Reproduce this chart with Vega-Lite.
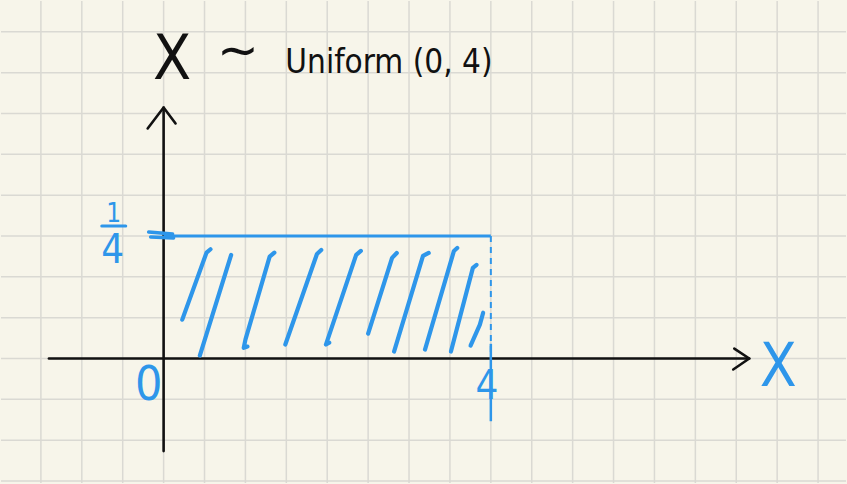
{
  "$schema": "https://vega.github.io/schema/vega-lite/v6.json",
  "width": 847,
  "height": 484,
  "autosize": {"type": "fit", "contains": "padding"},
  "padding": 0,
  "background": "#f7f5ea",
  "config": {"view": {"stroke": null}},
  "datasets": {
    "gridx": [
      {"x": -1.5}, {"x": -1.0}, {"x": -0.5}, {"x": 0.0}, {"x": 0.5}, {"x": 1.0}, {"x": 1.5},
      {"x": 2.0}, {"x": 2.5}, {"x": 3.0}, {"x": 3.5}, {"x": 4.0}, {"x": 4.5}, {"x": 5.0},
      {"x": 5.5}, {"x": 6.0}, {"x": 6.5}, {"x": 7.0}, {"x": 7.5}, {"x": 8.0}
    ],
    "gridy": [
      {"y": -0.25}, {"y": -0.1667}, {"y": -0.0833}, {"y": 0.0}, {"y": 0.0833}, {"y": 0.1667},
      {"y": 0.25}, {"y": 0.3333}, {"y": 0.4167}, {"y": 0.5}, {"y": 0.5833}, {"y": 0.6667}
    ],
    "axes": [
      {"path": "xaxis", "i": 0, "x": -1.402, "y": 0},
      {"path": "xaxis", "i": 1, "x": 7.159, "y": 0},
      {"path": "xarrow", "i": 0, "x": 6.976, "y": 0.0203},
      {"path": "xarrow", "i": 1, "x": 7.159, "y": 0},
      {"path": "xarrow", "i": 2, "x": 6.963, "y": -0.0224},
      {"path": "yaxis", "i": 0, "x": 0, "y": -0.189},
      {"path": "yaxis", "i": 1, "x": 0, "y": 0.512},
      {"path": "yarrow", "i": 0, "x": -0.195, "y": 0.4695},
      {"path": "yarrow", "i": 1, "x": 0, "y": 0.5122},
      {"path": "yarrow", "i": 2, "x": 0.146, "y": 0.4797}
    ],
    "hatch": [
      {"stroke": 1, "i": 0, "x": 0.5732, "y": 0.2230},
      {"stroke": 1, "i": 1, "x": 0.5244, "y": 0.2161},
      {"stroke": 1, "i": 2, "x": 0.2280, "y": 0.0793},
      {"stroke": 2, "i": 0, "x": 0.8256, "y": 0.2114},
      {"stroke": 2, "i": 1, "x": 0.4427, "y": 0.0061},
      {"stroke": 3, "i": 0, "x": 1.3537, "y": 0.2161},
      {"stroke": 3, "i": 1, "x": 1.2963, "y": 0.2079},
      {"stroke": 3, "i": 2, "x": 1.0000, "y": 0.0386},
      {"stroke": 3, "i": 3, "x": 0.9793, "y": 0.0217},
      {"stroke": 3, "i": 4, "x": 1.0244, "y": 0.0244},
      {"stroke": 4, "i": 0, "x": 1.9268, "y": 0.2215},
      {"stroke": 4, "i": 1, "x": 1.8744, "y": 0.2134},
      {"stroke": 4, "i": 2, "x": 1.4878, "y": 0.0285},
      {"stroke": 5, "i": 0, "x": 2.4110, "y": 0.2195},
      {"stroke": 5, "i": 1, "x": 2.3537, "y": 0.2114},
      {"stroke": 5, "i": 2, "x": 1.9841, "y": 0.0285},
      {"stroke": 5, "i": 3, "x": 2.0244, "y": 0.0325},
      {"stroke": 6, "i": 0, "x": 2.8500, "y": 0.2154},
      {"stroke": 6, "i": 1, "x": 2.7927, "y": 0.2053},
      {"stroke": 6, "i": 2, "x": 2.5000, "y": 0.0508},
      {"stroke": 7, "i": 0, "x": 3.2402, "y": 0.2154},
      {"stroke": 7, "i": 1, "x": 3.1707, "y": 0.2093},
      {"stroke": 7, "i": 2, "x": 2.8171, "y": 0.0142},
      {"stroke": 8, "i": 0, "x": 3.5890, "y": 0.2256},
      {"stroke": 8, "i": 1, "x": 3.5488, "y": 0.2195},
      {"stroke": 8, "i": 2, "x": 3.1951, "y": 0.0183},
      {"stroke": 9, "i": 0, "x": 3.8256, "y": 0.1911},
      {"stroke": 9, "i": 1, "x": 3.7805, "y": 0.1850},
      {"stroke": 9, "i": 2, "x": 3.5122, "y": 0.0142},
      {"stroke": 10, "i": 0, "x": 3.9061, "y": 0.0935},
      {"stroke": 10, "i": 1, "x": 3.8659, "y": 0.0691},
      {"stroke": 10, "i": 2, "x": 3.7524, "y": 0.0264}
    ],
    "ticks": [
      {"path": "t1", "i": 0, "x": -0.183, "y": 0.2581},
      {"path": "t1", "i": 1, "x": 0.1098, "y": 0.2541},
      {"path": "t2", "i": 0, "x": -0.1585, "y": 0.2480},
      {"path": "t2", "i": 1, "x": 0.122, "y": 0.2459}
    ],
    "labels": [
      {"name": "titleX", "text": "X", "x": 0.1037, "y": 0.5711},
      {"name": "tilde", "text": "∼", "x": 0.9085, "y": 0.6260},
      {"name": "dist", "text": "Uniform (0, 4)", "x": 1.4878, "y": 0.5833},
      {"name": "num", "text": "1", "x": -0.6098, "y": 0.2785},
      {"name": "den", "text": "4", "x": -0.622, "y": 0.1951},
      {"name": "zero", "text": "0", "x": -0.183, "y": -0.0854},
      {"name": "four", "text": "4", "x": 3.951, "y": -0.0833},
      {"name": "xlab", "text": "X", "x": 7.512, "y": -0.0569}
    ]
  },
  "encoding": {
    "x": {"field": "x", "type": "quantitative", "axis": null,
          "scale": {"domain": [-1.9878, 8.3415], "nice": false, "zero": false}},
    "y": {"field": "y", "type": "quantitative", "axis": null,
          "scale": {"domain": [-0.25407, 0.72967], "nice": false, "zero": false}}
  },
  "layer": [
    {
      "data": {"name": "gridx"},
      "mark": {"type": "rule", "stroke": "#dad9d3", "strokeWidth": 1.5},
      "encoding": {"y": null}
    },
    {
      "data": {"name": "gridy"},
      "mark": {"type": "rule", "stroke": "#dad9d3", "strokeWidth": 1.5},
      "encoding": {"x": null}
    },
    {
      "data": {"name": "axes"},
      "mark": {"type": "line", "color": "#111111", "strokeWidth": 2.6, "strokeCap": "round", "strokeJoin": "round"},
      "encoding": {
        "detail": {"field": "path"},
        "order": {"field": "i", "type": "quantitative"}
      }
    },
    {
      "data": {"name": "hatch"},
      "mark": {"type": "line", "color": "#2e96ea", "strokeWidth": 4.2, "strokeCap": "round", "strokeJoin": "round"},
      "encoding": {
        "detail": {"field": "stroke"},
        "order": {"field": "i", "type": "quantitative"}
      }
    },
    {
      "data": {"name": "ticks"},
      "mark": {"type": "line", "color": "#2e96ea", "strokeWidth": 3.5, "strokeCap": "round"},
      "encoding": {
        "detail": {"field": "path"},
        "order": {"field": "i", "type": "quantitative"}
      }
    },
    {
      "data": {"values": [{"x": 0, "x2": 4, "y": 0.25}]},
      "mark": {"type": "rule", "color": "#2e96ea", "strokeWidth": 3.2},
      "encoding": {"x2": {"field": "x2"}}
    },
    {
      "data": {"values": [{"x": 4, "y": 0.25, "y2": 0}]},
      "mark": {"type": "rule", "color": "#2e96ea", "strokeWidth": 2, "strokeDash": [6, 5]},
      "encoding": {"y2": {"field": "y2"}}
    },
    {
      "data": {"values": [{"x": 4, "y": 0.03, "y2": -0.128}]},
      "mark": {"type": "rule", "color": "#2e96ea", "strokeWidth": 2.5},
      "encoding": {"y2": {"field": "y2"}}
    },
    {
      "data": {"values": [{"x": -0.756, "x2": -0.463, "y": 0.2703}]},
      "mark": {"type": "rule", "color": "#2e96ea", "strokeWidth": 3, "strokeCap": "round"},
      "encoding": {"x2": {"field": "x2"}}
    },
    {
      "data": {"name": "labels"},
      "transform": [{"filter": "datum.name === 'titleX'"}],
      "mark": {"type": "text", "color": "#111111", "fontSize": 62, "align": "center", "baseline": "alphabetic",
               "font": "DejaVu Sans Condensed, sans-serif"},
      "encoding": {"text": {"field": "text"}}
    },
    {
      "data": {"name": "labels"},
      "transform": [{"filter": "datum.name === 'tilde'"}],
      "mark": {"type": "text", "color": "#111111", "fontSize": 50, "align": "center", "baseline": "middle",
               "font": "DejaVu Sans"},
      "encoding": {"text": {"field": "text"}}
    },
    {
      "data": {"name": "labels"},
      "transform": [{"filter": "datum.name === 'dist'"}],
      "mark": {"type": "text", "color": "#111111", "fontSize": 33, "align": "left", "baseline": "alphabetic",
               "font": "DejaVu Sans Condensed, sans-serif"},
      "encoding": {"text": {"field": "text"}}
    },
    {
      "data": {"name": "labels"},
      "transform": [{"filter": "datum.name === 'num'"}],
      "mark": {"type": "text", "color": "#2e96ea", "fontSize": 26, "align": "center", "baseline": "alphabetic",
               "font": "DejaVu Sans Condensed, sans-serif"},
      "encoding": {"text": {"field": "text"}}
    },
    {
      "data": {"name": "labels"},
      "transform": [{"filter": "datum.name === 'den' || datum.name === 'four'"}],
      "mark": {"type": "text", "color": "#2e96ea", "fontSize": 40, "align": "center", "baseline": "alphabetic",
               "font": "DejaVu Sans Condensed, sans-serif"},
      "encoding": {"text": {"field": "text"}}
    },
    {
      "data": {"name": "labels"},
      "transform": [{"filter": "datum.name === 'zero'"}],
      "mark": {"type": "text", "color": "#2e96ea", "fontSize": 48, "align": "center", "baseline": "alphabetic",
               "font": "DejaVu Sans Condensed, sans-serif"},
      "encoding": {"text": {"field": "text"}}
    },
    {
      "data": {"name": "labels"},
      "transform": [{"filter": "datum.name === 'xlab'"}],
      "mark": {"type": "text", "color": "#2e96ea", "fontSize": 60, "align": "center", "baseline": "alphabetic",
               "font": "DejaVu Sans Condensed, sans-serif"},
      "encoding": {"text": {"field": "text"}}
    }
  ]
}
